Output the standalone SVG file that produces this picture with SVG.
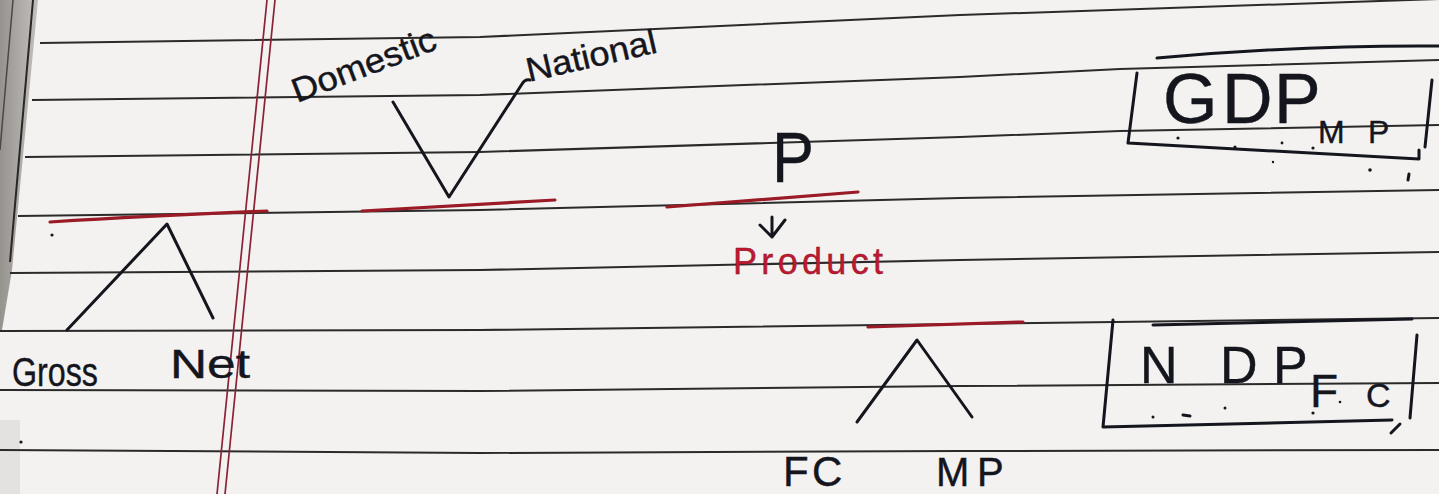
<svg xmlns="http://www.w3.org/2000/svg" width="1439" height="494" viewBox="0 0 1439 494">
  <defs>
    <linearGradient id="band" x1="0" y1="0" x2="1" y2="0">
      <stop offset="0" stop-color="#96938f"/>
      <stop offset="1" stop-color="#c2bfbc"/>
    </linearGradient>
    <style>
      .rule { fill: none; stroke: #2b2a2a; stroke-width: 2; }
      .margin { fill: none; stroke: #8a2236; stroke-width: 1.7; }
      .ink { fill: none; stroke: #15151d; stroke-width: 3; stroke-linecap: round; stroke-linejoin: round; }
      .red { fill: none; stroke: #9a1a26; stroke-width: 3.2; stroke-linecap: round; }
      .hand { font-family: "Liberation Sans", "DejaVu Sans", sans-serif; fill: #15151d; stroke: #15151d; stroke-width: 0.4; }
      .redtext { font-family: "Liberation Sans", "DejaVu Sans", sans-serif; fill: #c01830; stroke: #8a1020; stroke-width: 0.4; }
      .dot { fill: #15151d; }
    </style>
  </defs>

  <!-- paper -->
  <rect x="0" y="0" width="1439" height="494" fill="#f3f2f0"/>
  <polygon points="0,0 38,0 12,270 2,330 0,330" fill="url(#band)"/>
  <rect x="0" y="420" width="20" height="74" fill="#e4e2e0"/>
  <path d="M33 0 L10 262" stroke="#2a2826" stroke-width="2" fill="none"/>
  <path d="M13 0 L0 150" stroke="#4a4744" stroke-width="1.5" fill="none"/>

  <!-- ruled lines -->
  <g id="ruled-lines">
    <polyline class="rule" points="40,43 480,37 960,15 1439,-1"/>
    <polyline class="rule" points="32,100 480,95 960,77 1120,69 1439,60"/>
    <polyline class="rule" points="25,157 480,152 960,137 1120,131 1439,125"/>
    <polyline class="rule" points="18,216 480,210 960,198 1439,190"/>
    <polyline class="rule" points="10,273 480,270 960,260 1439,252"/>
    <polyline class="rule" points="0,331 480,330 960,324 1439,318"/>
    <polyline class="rule" points="0,390 480,391 960,386 1439,383"/>
    <polyline class="rule" points="0,450 480,453 960,451 1439,450"/>
  </g>

  <!-- margin double line -->
  <path class="margin" d="M267 0 L217 494"/>
  <path class="margin" d="M275 0 L225 494"/>

  <!-- connectors -->
  <g id="connectors">
    <path class="ink" d="M393 102 L449 197 L522 84 Q525 79 530 80"/>
    <path class="ink" d="M67 330 L167 224 L213 318"/>
    <path class="ink" d="M857 422 L917 340 L972 417"/>
    <path class="ink" d="M772 217 L772 237 M760 225 L772 237 L785 220" stroke-width="2.8"/>
    <path class="red" d="M50 222 Q150 216 267 211"/>
    <path class="red" d="M362 211 L555 200"/>
    <path class="red" d="M667 207 L858 192"/>
    <path class="red" d="M868 327 L1023 322"/>
  </g>

  <g id="domestic">
    <text class="hand" x="297" y="103" font-size="34" textLength="152" lengthAdjust="spacingAndGlyphs" transform="rotate(-21 297 103)">Domestic</text>
  </g>
  <g id="national">
    <text class="hand" x="529" y="82" font-size="34" textLength="133" lengthAdjust="spacingAndGlyphs" transform="rotate(-13 529 82)">National</text>
  </g>
  <g id="p">
    <text class="hand" x="772" y="182" font-size="70" textLength="42" lengthAdjust="spacingAndGlyphs">P</text>
  </g>
  <g id="product">
    <text class="redtext" x="733" y="274" font-size="36" textLength="150" lengthAdjust="spacing">Product</text>
  </g>
  <g id="gross">
    <text class="hand" x="12" y="386" font-size="40" textLength="86" lengthAdjust="spacingAndGlyphs">Gross</text>
  </g>
  <g id="net">
    <text class="hand" x="170" y="378" font-size="40" textLength="80" lengthAdjust="spacingAndGlyphs">Net</text>
  </g>
  <g id="fc">
    <text class="hand" x="783 812" y="486" font-size="42">FC</text>
  </g>
  <g id="mp">
    <text class="hand" x="936 977" y="486" font-size="40">MP</text>
  </g>

  <g id="gdp-mp">
    <path class="ink" d="M1157 58 Q1300 45 1439 46"/>
    <path class="ink" d="M1137 73 L1128 143 L1419 159 L1419 150"/>
    <path class="ink" d="M1432 80 L1425 147"/>
    <text class="hand" font-size="70"><tspan x="1163 1222 1274" y="123">GDP</tspan><tspan x="1318 1368" y="143" font-size="32">MP</tspan></text>
    <circle class="dot" cx="1178" cy="138" r="1.6"/>
    <circle class="dot" cx="1235" cy="147" r="1.6"/>
    <circle class="dot" cx="1282" cy="143" r="1.4"/>
    <circle class="dot" cx="1313" cy="148" r="1.6"/>
    <circle class="dot" cx="1273" cy="162" r="1.2"/>
    <circle class="dot" cx="1370" cy="170" r="1.8"/>
    <path class="ink" d="M1409 174 L1408 180" stroke-width="2"/>
  </g>

  <g id="ndp-fc">
    <path class="ink" d="M1153 325 L1412 319"/>
    <path class="ink" d="M1113 320 L1103 427 L1392 420"/>
    <path class="ink" d="M1417 335 L1410 418"/>
    <path class="ink" d="M1400 424 L1391 433" stroke-width="2.2"/>
    <text class="hand" font-size="52"><tspan x="1140 1220 1273" y="383">NDP</tspan><tspan x="1310" y="407" font-size="46">F</tspan><tspan x="1366" y="407" font-size="34">C</tspan></text>
    <circle class="dot" cx="1153" cy="417" r="1.5"/>
    <path class="ink" d="M1183 415 L1190 416" stroke-width="2"/>
    <circle class="dot" cx="1225" cy="408" r="1.5"/>
    <circle class="dot" cx="1313" cy="413" r="1.6"/>
    <circle class="dot" cx="1340" cy="402" r="1.3"/>
  </g>

  <circle class="dot" cx="52" cy="235" r="1.6"/>
  <circle class="dot" cx="21" cy="442" r="1.6"/>
</svg>
